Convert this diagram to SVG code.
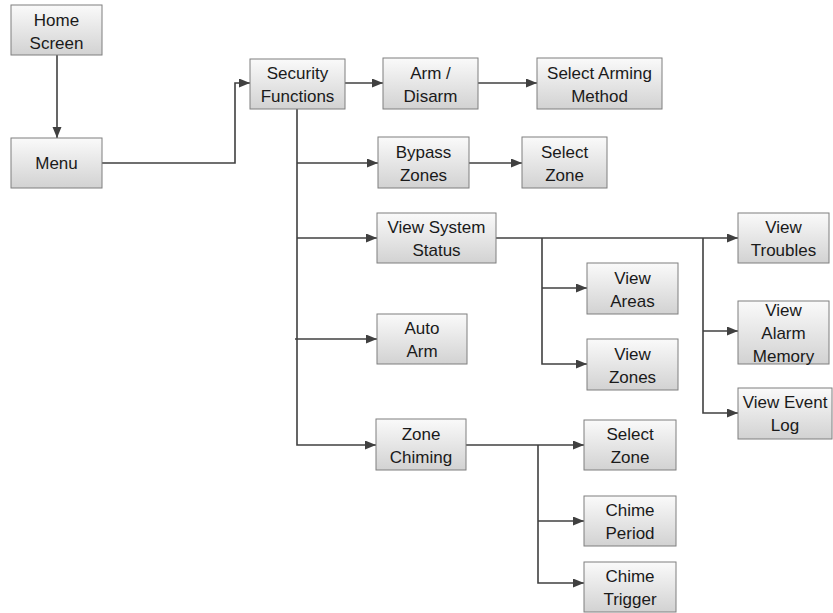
<svg xmlns="http://www.w3.org/2000/svg" width="833" height="613" viewBox="0 0 833 613">
<defs>
<linearGradient id="g" x1="0" y1="0" x2="0" y2="1">
<stop offset="0" stop-color="#fafafa"/>
<stop offset="1" stop-color="#d2d2d2"/>
</linearGradient>
<marker id="ah" markerUnits="userSpaceOnUse" markerWidth="12" markerHeight="10" refX="11" refY="4.5" orient="auto">
<path d="M0,0 L11,4.5 L0,9 z" fill="#404040"/>
</marker>
<style>
rect{fill:url(#g);stroke:#7f7f7f;stroke-width:1}
text{font-family:"Liberation Sans",Arial,sans-serif;font-size:17px;fill:#1a1a1a;text-anchor:middle}
#connectors path{fill:none;stroke:#404040;stroke-width:1.6}
.a{marker-end:url(#ah)}
</style>
</defs>
<rect width="833" height="613" fill="#ffffff" style="fill:#ffffff;stroke:none"/>
<g id="connectors">
<path class="a" d="M57,55 V138"/>
<path class="a" d="M102,163 H235 V83 H250"/>
<path class="a" d="M345,83 H383"/>
<path class="a" d="M478,83 H537"/>
<path class="a" d="M297,109 V445 H376"/>
<path class="a" d="M297,163 H378"/>
<path class="a" d="M297,238 H377"/>
<path class="a" d="M295,339 H377"/>
<path class="a" d="M469,163 H522"/>
<path class="a" d="M496,238 H738"/>
<path class="a" d="M542,238 V364 H587"/>
<path class="a" d="M542,288 H587"/>
<path class="a" d="M703,238 V413 H738"/>
<path class="a" d="M703,331 H738"/>
<path class="a" d="M466,445 H584"/>
<path class="a" d="M538,445 V583 H584"/>
<path class="a" d="M538,521 H584"/>
</g>
<g id="home"><rect x="11" y="5" width="91" height="50"/><text x="56.5" y="26">Home</text><text x="56.5" y="49">Screen</text></g>
<g id="menu"><rect x="11" y="138" width="91" height="50"/><text x="56.5" y="169">Menu</text></g>
<g id="security"><rect x="250" y="59" width="95" height="50"/><text x="297.5" y="79">Security</text><text x="297.5" y="102">Functions</text></g>
<g id="arm"><rect x="383" y="58" width="95" height="51"/><text x="430.5" y="79">Arm /</text><text x="430.5" y="102">Disarm</text></g>
<g id="arming-method"><rect x="537" y="58" width="125" height="51"/><text x="599.5" y="79">Select Arming</text><text x="599.5" y="102">Method</text></g>
<g id="bypass"><rect x="378" y="137" width="91" height="51"/><text x="423.5" y="158">Bypass</text><text x="423.5" y="181">Zones</text></g>
<g id="select-zone-1"><rect x="522" y="137" width="85" height="51"/><text x="564.5" y="158">Select</text><text x="564.5" y="181">Zone</text></g>
<g id="system-status"><rect x="377" y="213" width="119" height="50"/><text x="436.5" y="233">View System</text><text x="436.5" y="256">Status</text></g>
<g id="areas"><rect x="587" y="263" width="91" height="51"/><text x="632.5" y="284">View</text><text x="632.5" y="307">Areas</text></g>
<g id="zones"><rect x="587" y="339" width="91" height="51"/><text x="632.5" y="360">View</text><text x="632.5" y="383">Zones</text></g>
<g id="auto-arm"><rect x="377" y="314" width="90" height="50"/><text x="422" y="334">Auto</text><text x="422" y="357">Arm</text></g>
<g id="zone-chiming"><rect x="376" y="419" width="90" height="51"/><text x="421" y="440">Zone</text><text x="421" y="463">Chiming</text></g>
<g id="select-zone-2"><rect x="584" y="420" width="92" height="50"/><text x="630" y="440">Select</text><text x="630" y="463">Zone</text></g>
<g id="chime-period"><rect x="584" y="496" width="92" height="50"/><text x="630" y="516">Chime</text><text x="630" y="539">Period</text></g>
<g id="chime-trigger"><rect x="584" y="562" width="92" height="50"/><text x="630" y="582">Chime</text><text x="630" y="605">Trigger</text></g>
<g id="troubles"><rect x="738" y="213" width="91" height="50"/><text x="783.5" y="233">View</text><text x="783.5" y="256">Troubles</text></g>
<g id="alarm-memory"><rect x="738" y="301" width="91" height="63"/><text x="783.5" y="316">View</text><text x="783.5" y="339">Alarm</text><text x="783.5" y="362">Memory</text></g>
<g id="event-log"><rect x="738" y="388" width="94" height="51"/><text x="785" y="408">View Event</text><text x="785" y="431">Log</text></g>
</svg>
